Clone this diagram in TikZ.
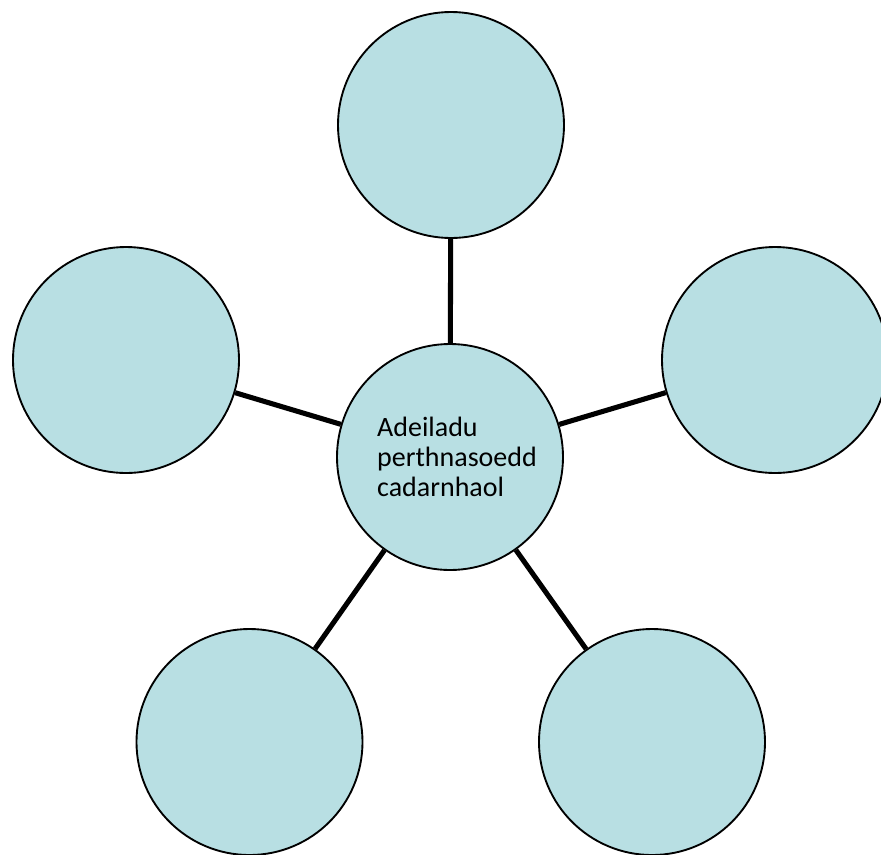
\documentclass[tikz,border=0pt]{standalone}
\usepackage{fontspec}
\setmainfont{Carlito}
\usepackage{tikz}
\usetikzlibrary{positioning}
\definecolor{bubblefill}{RGB}{184,223,227}
\tikzset{
	x=0.75pt,
	y=-0.75pt,
	every bubble/.style={
		circle,
		draw=black,
		line width=1.4pt,
		fill=bubblefill,
		minimum size=169.5pt,
		inner sep=0pt
	},
	spoke/.style={
		line width=3.8pt,
		black
	}
}

\begin{document}
\begin{tikzpicture}
  \useasboundingbox (0,0) rectangle (881,854);
  \clip (0,0) rectangle (881,854);

  \node [every bubble, align=left, font=\fontsize{21}{22.5}\selectfont] (centre) at (450,457)
    {\hspace*{10.5pt}Adeiladu\\\hspace*{10.5pt}perthnasoedd\\\hspace*{10.5pt}cadarnhaol};
  \node [every bubble] (top) at (451,125) {};
  \node [every bubble] (left) at (126,360) {};
  \node [every bubble] (right) at (775,360) {};
  \node [every bubble] (botleft) at (249.5,742) {};
  \node [every bubble] (botright) at (652,742) {};

  \draw [spoke] (centre) edge (top)
    edge (left)
    edge (right)
    edge (botleft)
    edge (botright);
\end{tikzpicture}
\end{document}
